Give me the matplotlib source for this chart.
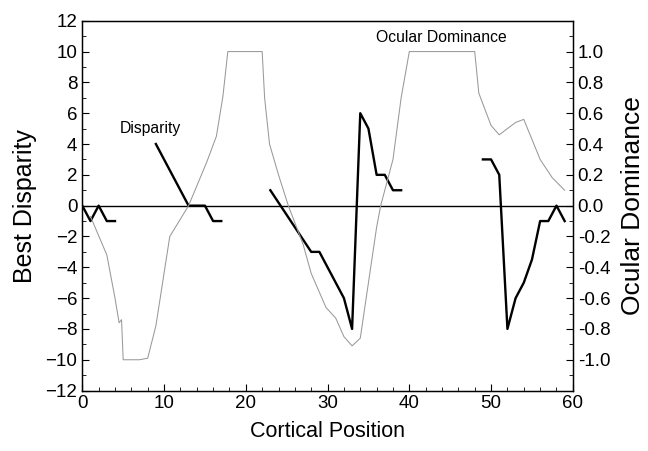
import matplotlib.pyplot as plt
from matplotlib.ticker import MultipleLocator, FuncFormatter

plt.rcParams['font.family'] = ['Liberation Sans', 'DejaVu Sans']

# best disparity, drawn as separate pieces (gaps = no data)
disp_x = [
    [0, 1, 2, 3, 4],
    [9, 13, 14, 15, 16, 17],
    [23, 28, 29, 32, 33, 34, 35, 36, 37, 38, 39],
    [49, 50, 51, 52, 53, 54, 55, 56, 57, 58, 59],
]
disp_y = [
    [0, -1, 0, -1, -1],
    [4, 0, 0, 0, -1, -1],
    [1, -3, -3, -6, -8, 6, 5, 2, 2, 1, 1],
    [3, 3, 2, -8, -6, -5, -3.5, -1, -1, 0, -1],
]

# ocular dominance (right axis)
od_x = [1, 3, 4, 4.5, 4.8, 5, 7, 8, 9, 10.7, 13, 15.2, 16.4, 17.2, 17.8,
        22, 22.3, 22.9, 24, 25.2, 27, 28, 29.8, 31, 32, 33, 34, 36, 36.5,
        38, 39, 40, 48, 48.5, 50, 51, 53, 54, 56, 57.5, 59]
od_y = [-0.07, -0.32, -0.6, -0.76, -0.74, -1.0, -1.0, -0.99, -0.78, -0.2,
        0.0, 0.28, 0.45, 0.71, 1.0, 1.0, 0.7, 0.4, 0.2, 0.0, -0.25, -0.44,
        -0.66, -0.73, -0.85, -0.91, -0.86, -0.14, 0.0, 0.3, 0.7, 1.0, 1.0,
        0.73, 0.52, 0.46, 0.54, 0.56, 0.3, 0.18, 0.1]

od_ticks = [-1.0, -0.8, -0.6, -0.4, -0.2, 0.0, 0.2, 0.4, 0.6, 0.8, 1.0]

fig = plt.figure(figsize=(6.48, 4.51), dpi=100)
ax = fig.add_axes([0.127, 0.134, 0.757, 0.82])
ax2 = ax.twinx()

ax.axhline(0, color='black', linewidth=1.0)
for xs, ys in zip(disp_x, disp_y):
    ax.plot(xs, ys, color='black', linewidth=1.7)

ax2.plot(od_x, od_y, color='#999999', linewidth=0.75)

ax.set_xlim(0, 60)
ax.set_ylim(-12, 12)
ax2.set_ylim(-1.2, 1.2)

ax.xaxis.set_major_locator(MultipleLocator(10))
ax.xaxis.set_minor_locator(MultipleLocator(2))
ax.yaxis.set_major_locator(MultipleLocator(2))
ax.yaxis.set_minor_locator(MultipleLocator(1))
ax2.set_yticks(od_ticks)
ax2.yaxis.set_minor_locator(MultipleLocator(0.1))
ax2.yaxis.set_major_formatter(FuncFormatter(lambda v, p: f'{v:.1f}'.replace('-0.0', '0.0')))

ax.tick_params(which='both', direction='in', labelsize=13.5, top=False)
ax.tick_params(which='major', length=5)
ax.tick_params(which='minor', length=3)
ax2.tick_params(which='both', direction='in', labelsize=13.5)
ax2.tick_params(which='major', length=5)
ax2.tick_params(which='minor', length=3)

ax.set_xlabel('Cortical Position', fontsize=15.5, labelpad=6)
ax.set_ylabel('Best Disparity', fontsize=18, labelpad=6)
ax2.set_ylabel('Ocular Dominance', fontsize=19, labelpad=8)

ax.text(4.6, 5.0, 'Disparity', fontsize=11.3, va='center', ha='left')
ax.text(35.9, 10.9, 'Ocular Dominance', fontsize=11.3, va='center', ha='left')

for s in ax.spines.values():
    s.set_linewidth(1.0)

fig.savefig('out.png', dpi=100)
